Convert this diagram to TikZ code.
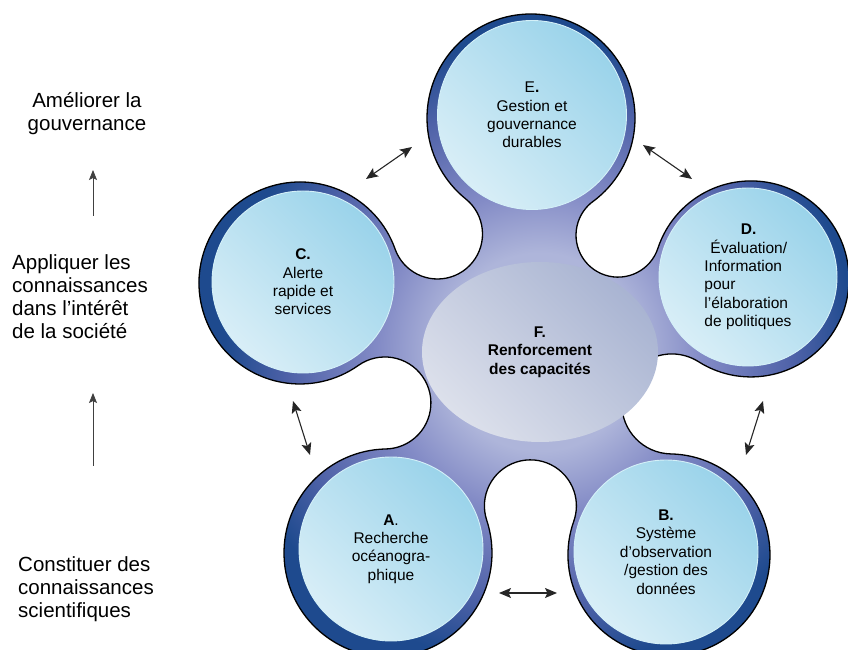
\documentclass[tikz,border=0pt]{standalone}
\usepackage{fontspec}
\setmainfont{Liberation Sans}
\usetikzlibrary{arrows.meta,shapes.geometric}

\definecolor{blobin}{HTML}{AEB5DA}
\definecolor{blobmid}{HTML}{838BC6}
\definecolor{blobdeep}{HTML}{4F62A8}
\definecolor{blobrim}{HTML}{1E4A8E}
\definecolor{diskdark}{HTML}{9AD3EA}
\definecolor{disklight}{HTML}{D8EEF7}
\definecolor{diskedge}{HTML}{D4F0F8}
\definecolor{coredark}{HTML}{A9B4D2}
\definecolor{corelight}{HTML}{DCE0EB}

\pgfdeclareradialshading{blobshade}{\pgfpoint{0bp}{0bp}}{color(0bp)=(blobin); color(5.5bp)=(blobin); color(9bp)=(blobmid); color(14bp)=(blobdeep); color(17.5bp)=(blobrim); color(50bp)=(blobrim)}

\newcommand{\circfont}{\fontsize{15.5}{18.4}\selectfont}
\newcommand{\sidefont}{\fontsize{20.5}{23}\selectfont}

\begin{document}
\begin{tikzpicture}[x=1pt, y=1pt,
  blob/.style={draw=black, line width=1.3pt, path picture={\shade[shading=blobshade] (540,298) circle[radius=450];}},
  disk/.style={circle, draw=diskedge, line width=0.9pt, top color=diskdark, bottom color=disklight, shading angle=-45, align=center, font=\circfont, inner sep=0pt},
  core/.style={ellipse, top color=coredark, bottom color=corelight, shading angle=-45, minimum width=236pt, minimum height=180pt, align=center, font=\circfont\bfseries},
  side/.style={align=left, font=\sidefont, anchor=west, inner sep=0pt},
  link/.style={arrows={Stealth[length=12pt,width=10pt,inset=2.5pt]-Stealth[length=12pt,width=10pt,inset=2.5pt]}, line width=1.1pt, draw=black!85},
  rise/.style={arrows={-Stealth[length=10pt,width=8pt,inset=2pt]}, line width=0.8pt, draw=black!75}]
	\useasboundingbox (0,0) rectangle (848,650);
	
	% Blob: Kreise aussen, Luecken innen
	\path[blob] (593.0,448.5)
	  arc[start angle=-53.41, end angle=231.13, radius=104]
	  arc[start angle=51.13, end angle=-160.39, radius=45]
	  arc[start angle=19.61, end angle=305.29, radius=101]
	  arc[start angle=125.29, end angle=-88.82, radius=46]
	  arc[start angle=91.18, end angle=378.29, radius=104]
	  arc[start angle=198.29, end angle=-19.49, radius=46]
	  arc[start angle=160.51, end angle=448.94, radius=101]
	  arc[start angle=268.94, end angle=57.64, radius=50]
	  arc[start angle=-122.36, end angle=161.77, radius=98]
	  arc[start angle=-18.23, end angle=-233.41, radius=42]
	  -- cycle;
	
	\node[disk, minimum size=189pt] (diskE) at (532,535) {E\textbf{.}\\Gestion et\\gouvernance\\durables};
	\node[disk, minimum size=182pt] (diskC) at (303,368) {\textbf{C.}\\Alerte\\rapide et\\services};
	\node[disk, minimum size=178pt, align=left] (diskD) at (748,373) {\hspace*{36.5pt}\textbf{D.}\\\hspace*{6pt}Évaluation/\\Information\\pour\\l’élaboration\\de politiques};
	\node[disk, minimum size=184pt] (diskA) at (391,101) {\textbf{A}.\\Recherche\\océanogra-\\phique};
	\node[disk, minimum size=184pt] (diskB) at (666,98) {\textbf{B.}\\Système\\d’observation\\/gestion des\\données};
	
	\node[core] (core) at (540,298) {F.\\Renforcement\\des capacités};
	
	% Pfeile zwischen den Kreisen
	\coordinate (ecA) at (366,471); \coordinate (ecB) at (412,503);
	\coordinate (edA) at (643,505); \coordinate (edB) at (692,471);
	\coordinate (caA) at (293,249); \coordinate (caB) at (310,195);
	\coordinate (dbA) at (763,249); \coordinate (dbB) at (746,195);
	\coordinate (abA) at (499,57);  \coordinate (abB) at (557,57);
	\draw[link] (ecA) -- (ecB);
	\draw[link] (edA) -- (edB);
	\draw[link] (caA) -- (caB);
	\draw[link] (dbA) -- (dbB);
	\draw[link] (abA) -- (abB);
	
	% linke Spalte
	\node[side, align=center, anchor=center] (gov) at (87,536) {Améliorer la\\gouvernance};
	\node[side] (apply) at (12,353) {Appliquer les\\connaissances\\dans l’intérêt\\de la société};
	\node[side] (build) at (18,61) {Constituer des\\connaissances\\scientifiques};
	
	\coordinate (upAbot) at (93,434); \coordinate (upAtop) at (93,480);
	\coordinate (upBbot) at (93,184); \coordinate (upBtop) at (93,257);
	\draw[rise] (upAbot) -- (upAtop);
	\draw[rise] (upBbot) -- (upBtop);
	
	%\draw[help lines] (0,0) grid[step=50] (848,650);
\end{tikzpicture}
\end{document}
